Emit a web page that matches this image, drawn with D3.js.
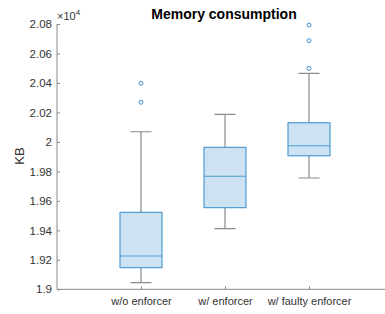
<!DOCTYPE html>
<html>
<head>
<meta charset="utf-8">
<script src="https://cdn.jsdelivr.net/npm/d3@7"></script>
<style>
  body { margin: 0; background: #fff; }
  svg { font-family: "Liberation Sans", Arial, sans-serif; }
</style>
</head>
<body>
<div id="vis"></div>
<script>
// datos (en unidades de 1e4 KB)
const categories = ["w/o enforcer", "w/ enforcer", "w/ faulty enforcer"];
const whiskerLow = [1.9045, 1.9411, 1.9755];
const q1 = [1.9147, 1.9554, 1.9906];
const median = [1.9226, 1.9767, 1.9974];
const q3 = [1.9522, 1.9963, 2.0130];
const whiskerHigh = [2.0069, 2.0187, 2.0465];
const outliers = [[2.0269, 2.0398], [], [2.0499, 2.0687, 2.0793]];
const yTicks = [1.9, 1.92, 1.94, 1.96, 1.98, 2, 2.02, 2.04, 2.06, 2.08];

const WIDTH = 385, HEIGHT = 314;
const margins = { top: 24, bottom: 25, left: 57, right: 0 };

const SVG = d3.select("#vis").append("svg")
  .attr("width", WIDTH).attr("height", HEIGHT);

const escalaX = d3.scaleLinear().domain([0, 4]).range([margins.left, margins.left + 336]);
const escalaY = d3.scaleLinear().domain([1.9, 2.08]).range([HEIGHT - margins.bottom + 0.3, margins.top]);

const boxes = categories.map((c, i) => ({
  cat: c, pos: i + 1,
  lo: whiskerLow[i], q1: q1[i], med: median[i], q3: q3[i], hi: whiskerHigh[i],
  out: outliers[i]
}));

// ejes
const ejeY = d3.axisLeft(escalaY).tickValues(yTicks).tickSize(-3).tickPadding(5)
  .tickFormat(d => d3.format("")(+d.toFixed(2)));
const gy = SVG.append("g").attr("transform", `translate(${margins.left},0)`).call(ejeY);
gy.select(".domain").attr("d", `M0,${escalaY(2.08)}V${escalaY(1.9)}`);

const ejeX = d3.axisBottom(escalaX).tickValues([1, 2, 3]).tickSize(-3).tickPadding(8)
  .tickFormat((d, i) => categories[i]);
const gx = SVG.append("g").attr("transform", `translate(0,${escalaY(1.9)})`).call(ejeX);
gx.select(".domain").attr("d", `M${escalaX(0)},0H${escalaX(4)}`);

SVG.selectAll(".domain").attr("stroke", "#8a8a8a");
SVG.selectAll(".tick line").attr("stroke", "#8a8a8a");
SVG.selectAll(".tick text").attr("fill", "#333").style("font-size", "11px");
gy.selectAll(".tick text").style("font-size", "11.5px");

// cajas
const g = SVG.append("g");
const boxW = 0.25, capW = 0.125;

g.selectAll(".whisker").data(boxes).join("path")
  .attr("class", "whisker")
  .attr("fill", "none").attr("stroke", "#8a8a8a").attr("stroke-width", 1.2)
  .attr("d", d => `M${escalaX(d.pos)},${escalaY(d.hi)}V${escalaY(d.q3)}` +
                  `M${escalaX(d.pos)},${escalaY(d.q1)}V${escalaY(d.lo)}` +
                  `M${escalaX(d.pos - capW)},${escalaY(d.hi)}H${escalaX(d.pos + capW)}` +
                  `M${escalaX(d.pos - capW)},${escalaY(d.lo)}H${escalaX(d.pos + capW)}`);

g.selectAll(".caja").data(boxes).join("rect")
  .attr("class", "caja")
  .attr("x", d => escalaX(d.pos - boxW))
  .attr("width", d => escalaX(d.pos + boxW) - escalaX(d.pos - boxW))
  .attr("y", d => escalaY(d.q3))
  .attr("height", d => escalaY(d.q1) - escalaY(d.q3))
  .attr("fill", "#cde2f2").attr("stroke", "#4f9bd3").attr("stroke-width", 1.2);

g.selectAll(".mediana").data(boxes).join("line")
  .attr("class", "mediana")
  .attr("x1", d => escalaX(d.pos - boxW)).attr("x2", d => escalaX(d.pos + boxW))
  .attr("y1", d => escalaY(d.med)).attr("y2", d => escalaY(d.med))
  .attr("stroke", "#4f9bd3").attr("stroke-width", 1.2);

const puntos = boxes.flatMap(d => d.out.map(v => ({ pos: d.pos, v })));
g.selectAll(".outlier").data(puntos).join("circle")
  .attr("class", "outlier")
  .attr("cx", d => escalaX(d.pos)).attr("cy", d => escalaY(d.v))
  .attr("r", 2).attr("fill", "none").attr("stroke", "#3e8fcf").attr("stroke-width", 1);

// textos
SVG.append("text").attr("x", 224).attr("y", 19).attr("text-anchor", "middle")
  .style("font-size", "14px").style("font-weight", "bold").attr("fill", "#000")
  .text("Memory consumption");

SVG.append("text").attr("transform", "translate(24,156) rotate(-90)")
  .attr("text-anchor", "middle").style("font-size", "13px").attr("fill", "#333")
  .text("KB");

const exp = SVG.append("text").attr("x", 57).attr("y", 20)
  .style("font-size", "11px").attr("fill", "#333");
exp.append("tspan").text("×10");
exp.append("tspan").attr("dy", -5).style("font-size", "8px").text("4");
</script>
</body>
</html>
